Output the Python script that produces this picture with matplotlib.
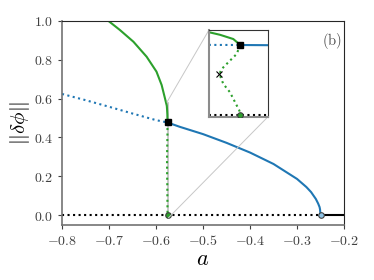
import matplotlib
matplotlib.use('Agg')
import matplotlib.pyplot as plt
from matplotlib.ticker import FormatStrFormatter
from mpl_toolkits.axes_grid1.inset_locator import mark_inset

plt.rcParams['mathtext.fontset'] = 'cm'
plt.rcParams['font.family'] = 'serif'
plt.rcParams['font.serif'] = ['DejaVu Serif']

# blue branch (dotted = unstable, solid = stable)
blue_a_unst = [-0.8, -0.75, -0.7, -0.65, -0.6, -0.5755]
blue_y_unst = [0.624, 0.592, 0.558, 0.523, 0.489, 0.477]
blue_a_st = [-0.5755, -0.55, -0.5, -0.45, -0.4, -0.35, -0.3, -0.28, -0.27,
             -0.26, -0.255, -0.252, -0.251, -0.25]
blue_y_st = [0.477, 0.455, 0.417, 0.372, 0.322, 0.263, 0.186, 0.144, 0.118,
             0.083, 0.059, 0.041, 0.029, 0.0]

# green branch
green_a_st = [-0.701, -0.677, -0.648, -0.620, -0.599, -0.588, -0.581,
              -0.57705, -0.57654, -0.57586, -0.5755]
green_y_st = [1.0, 0.954, 0.893, 0.816, 0.739, 0.670, 0.602,
              0.563, 0.547, 0.518, 0.477]
green_a_unst = [-0.5755, -0.57569, -0.57620, -0.57645, -0.57657, -0.57637,
                -0.57603, -0.57577, -0.57555, -0.5755]
green_y_unst = [0.477, 0.415, 0.347, 0.313, 0.279, 0.211,
                0.154, 0.086, 0.029, 0.0]

# trivial branch
zero_a_unst = [-0.8, -0.25]
zero_a_st = [-0.25, -0.2]
zero_y_unst = [0.0, 0.0]
zero_y_st = [0.0, 0.0]

# special points
fold_pt = (-0.5755, 0.477)
bp_green = (-0.5755, 0.0)
bp_blue = (-0.25, 0.0)
cross_pt = (-0.57657, 0.279)

blue = '#1f77b4'
green = '#2ca02c'


def draw(ax, inset=False):
    ax.plot(zero_a_unst, zero_y_unst, ':', color='k', lw=1.5)
    ax.plot(zero_a_st, zero_y_st, '-', color='k', lw=1.5)
    ax.plot(blue_a_unst, blue_y_unst, ':', color=blue, lw=1.5)
    ax.plot(blue_a_st, blue_y_st, '-', color=blue, lw=1.5)
    ax.plot(green_a_unst, green_y_unst, ':', color=green, lw=1.5)
    ax.plot(green_a_st, green_y_st, '-', color=green, lw=1.5)
    ax.plot(*fold_pt, 's', color='k', ms=5, zorder=5)
    ax.plot(*bp_green, 'o', mfc=green, mec='0.25', mew=0.8, ms=4, zorder=5)
    ax.plot(*bp_blue, 'o', mfc='#8ec3e6', mec='0.25', mew=0.8, ms=4, zorder=5)
    if inset:
        ax.plot(*cross_pt, 'x', color='k', ms=4, mew=0.8, zorder=5)


fig = plt.figure(figsize=(3.74, 2.80), dpi=100)
ax = fig.add_axes([0.1658, 0.1954, 0.754, 0.7296])
draw(ax)
ax.set_xlim(-0.8, -0.2)
ax.set_ylim(-0.053, 1.0)
ax.set_xticks([-0.8, -0.7, -0.6, -0.5, -0.4, -0.3, -0.2])
ax.set_yticks([0.0, 0.2, 0.4, 0.6, 0.8, 1.0])
ax.xaxis.set_major_formatter(FormatStrFormatter(r'$%.1f$'))
ax.yaxis.set_major_formatter(FormatStrFormatter(r'$%.1f$'))
ax.tick_params(labelsize=10, length=3, width=0.8, colors='0.25')
for s in ['left', 'bottom']:
    ax.spines[s].set_color('0.45')
    ax.spines[s].set_linewidth(1.2)
for s in ['top', 'right']:
    ax.spines[s].set_color('0.15')
    ax.spines[s].set_linewidth(0.8)
ax.set_xlabel(r'$a$', fontsize=16, labelpad=0)
ax.set_ylabel(r'$||\delta\phi||$', fontsize=15, labelpad=1)
ax.text(0.992, 0.95, r'$\mathrm{(b)}$', transform=ax.transAxes,
        ha='right', va='top', fontsize=10.5, color='0.3')

axins = fig.add_axes([0.5588, 0.582, 0.157, 0.311])
draw(axins, inset=True)
axins.set_xlim(-0.5771, -0.5741)
axins.set_ylim(-0.016, 0.58)
axins.set_xticks([])
axins.set_yticks([])
for s in ['left', 'bottom']:
    axins.spines[s].set_color('0.55')
    axins.spines[s].set_linewidth(1.5)
for s in ['top', 'right']:
    axins.spines[s].set_color('0.2')
    axins.spines[s].set_linewidth(0.8)

mark_inset(ax, axins, loc1=2, loc2=4, fc='none', ec='0.78', lw=0.7)

fig.savefig('out.png', dpi=100)
